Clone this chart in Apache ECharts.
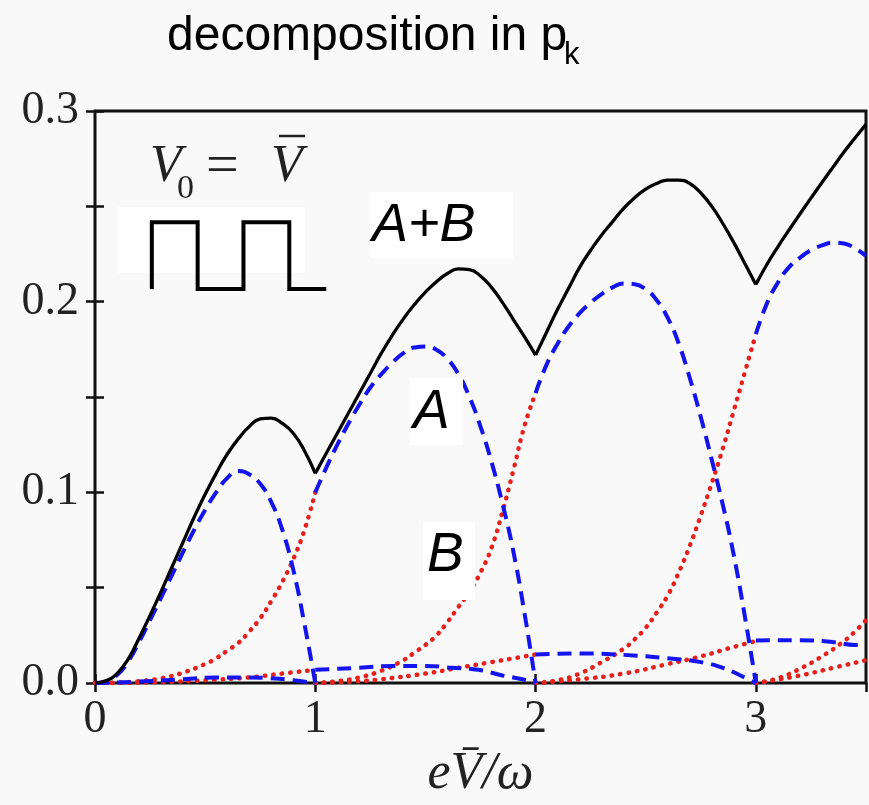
<!DOCTYPE html>
<html><head><meta charset="utf-8">
<script src="https://cdn.jsdelivr.net/npm/echarts@6/dist/echarts.min.js"></script>
<style>html,body{margin:0;padding:0;background:#f9f9f9}#c{width:869px;height:805px}</style>
</head><body><div id="c"></div>
<script>
// ---------- data ----------
const xTickValues = [0, 1, 2, 3];
const yTickLabels = ['0.0', '0.1', '0.2', '0.3'];

// A+B (black solid)
const totalAB = [[0,0],[0.05,0.0012],[0.1,0.005],[0.15,0.0125],[0.2,0.0235],[0.25,0.0355],[0.3,0.048],[0.35,0.061],[0.4,0.074],[0.45,0.087],[0.5,0.099],[0.55,0.11],[0.6,0.12],[0.65,0.128],[0.7,0.1345],[0.75,0.1385],[0.8,0.139],[0.85,0.1362],[0.9,0.131],[0.95,0.122],[1,0.11],
  [1.05,0.1205],[1.1,0.131],[1.15,0.1415],[1.2,0.152],[1.25,0.1625],[1.3,0.173],[1.35,0.1825],[1.4,0.191],[1.45,0.1985],[1.5,0.205],[1.55,0.2105],[1.6,0.2148],[1.65,0.2172],[1.7,0.2168],[1.75,0.2135],[1.8,0.2075],[1.85,0.1995],[1.9,0.1905],[1.95,0.1815],[2,0.172],
  [2.05,0.184],[2.1,0.196],[2.15,0.207],[2.2,0.218],[2.25,0.227],[2.3,0.235],[2.35,0.242],[2.4,0.249],[2.45,0.2545],[2.5,0.259],[2.55,0.262],[2.6,0.2638],[2.65,0.2638],[2.7,0.262],[2.75,0.257],[2.8,0.25],[2.85,0.241],[2.9,0.231],[2.95,0.22],[3,0.209],
  [3.05,0.2195],[3.1,0.2288],[3.15,0.2375],[3.2,0.246],[3.25,0.2543],[3.3,0.2625],[3.35,0.2705],[3.4,0.2785],[3.45,0.2858],[3.5,0.293]];

// A (blue dashed) - large humps
const aHump1 = [[0,0],[0.05,0.0009],[0.1,0.0042],[0.15,0.0112],[0.2,0.0215],[0.25,0.033],[0.3,0.0448],[0.35,0.0568],[0.4,0.0688],[0.45,0.0803],[0.5,0.0908],[0.55,0.1],[0.6,0.1075],[0.65,0.1112],[0.7,0.1095],[0.75,0.1045],[0.8,0.095],[0.85,0.0805],[0.9,0.0595],[0.95,0.0315],[1,0]];
const aHump2 = [[1,0.1],[1.05,0.113],[1.1,0.125],[1.15,0.136],[1.2,0.146],[1.25,0.155],[1.3,0.162],[1.35,0.168],[1.4,0.173],[1.45,0.176],[1.5,0.1765],[1.55,0.1748],[1.6,0.17],[1.65,0.162],[1.7,0.15],[1.75,0.1345],[1.8,0.116],[1.85,0.094],[1.9,0.0685],[1.95,0.0365],[2,0]];
const aHump3 = [[2,0.152],[2.05,0.167],[2.1,0.178],[2.15,0.187],[2.2,0.194],[2.25,0.1995],[2.3,0.204],[2.35,0.2075],[2.4,0.2095],[2.45,0.2092],[2.5,0.2065],[2.55,0.2008],[2.6,0.1915],[2.65,0.178],[2.7,0.16],[2.75,0.1395],[2.8,0.117],[2.85,0.0935],[2.9,0.067],[2.95,0.035],[3,0]];
const aHump4 = [[3,0.183],[3.05,0.199],[3.1,0.21],[3.15,0.218],[3.2,0.223],[3.25,0.227],[3.3,0.2295],[3.35,0.231],[3.4,0.2305],[3.45,0.228],[3.5,0.224]];
// A - small branches
const aLow1 = [[0,0],[0.2,0.0008],[0.4,0.002],[0.55,0.003],[0.7,0.003],[0.8,0.0025],[0.9,0.0015],[1,0]];
const aLow2 = [[1,0.007],[1.2,0.008],[1.35,0.009],[1.5,0.009],[1.62,0.008],[1.74,0.007],[1.85,0.004],[1.94,0.002],[2,0]];
const aLow3 = [[2,0.015],[2.2,0.0155],[2.4,0.0148],[2.6,0.013],[2.75,0.011],[2.85,0.008],[2.93,0.004],[3,0]];
const aLow4 = [[3,0.0224],[3.2,0.0225],[3.35,0.0215],[3.45,0.02],[3.5,0.02]];

// B (red dotted) - large rises
const bRise1 = [[0,0],[0.1,0.0002],[0.2,0.001],[0.3,0.0025],[0.4,0.0055],[0.5,0.01],[0.55,0.013],[0.6,0.017],[0.65,0.021],[0.7,0.027],[0.75,0.034],[0.8,0.043],[0.85,0.053],[0.9,0.065],[0.95,0.08],[1,0.1]];
const bRise2 = [[1,0],[1.1,0.001],[1.2,0.003],[1.3,0.0065],[1.4,0.012],[1.45,0.016],[1.5,0.02],[1.55,0.025],[1.6,0.032],[1.65,0.04],[1.7,0.048],[1.75,0.058],[1.8,0.071],[1.85,0.09],[1.9,0.112],[1.95,0.135],[2,0.152]];
const bRise3 = [[2,0],[2.1,0.0015],[2.2,0.005],[2.3,0.011],[2.4,0.018],[2.45,0.023],[2.5,0.029],[2.55,0.037],[2.6,0.046],[2.65,0.058],[2.7,0.072],[2.75,0.088],[2.8,0.105],[2.85,0.123],[2.9,0.143],[2.95,0.163],[3,0.183]];
const bRise4 = [[3,0],[3.1,0.0025],[3.2,0.0075],[3.3,0.014],[3.4,0.022],[3.45,0.027],[3.5,0.033]];
// B - small rises
const bLow1 = [[0,0],[0.3,0.0005],[0.5,0.0015],[0.7,0.003],[0.85,0.005],[1,0.007]];
const bLow2 = [[1,0],[1.2,0.001],[1.3,0.002],[1.5,0.005],[1.65,0.008],[1.8,0.011],[1.9,0.013],[2,0.015]];
const bLow3 = [[2,0],[2.2,0.002],[2.4,0.005],[2.6,0.01],[2.75,0.014],[2.9,0.019],[3,0.022]];
const bLow4 = [[3,0],[3.2,0.004],[3.35,0.008],[3.5,0.012]];

// inset square wave (V0 = V̄), in axis units
const insetWaveX = [0.258,0.258,0.466,0.466,0.674,0.674,0.882,0.882,1.05];
const insetWaveY = [0.2066,0.2416,0.2416,0.2066,0.2066,0.2416,0.2416,0.2066,0.2066];

// ---------- chart ----------
function splitAtIntegers(arr) {
  const segs = []; let cur = [];
  arr.forEach((p, i) => {
    cur.push(p);
    if (i > 0 && Number.isInteger(p[0]) && i < arr.length - 1) { segs.push(cur); cur = [p]; }
  });
  if (cur.length > 1) segs.push(cur);
  return segs;
}

const blueStyle = { color: '#1414ee', width: 4, type: [14, 8] };
const redStyle = { color: '#e8201c', width: 4.5, type: [0.5, 8], cap: 'round' };
const blackStyle = { color: '#000', width: 3.3 };

function lineSeries(name, data, style, z) {
  return { name, type: 'line', data, showSymbol: false, smooth: 0.5, smoothConstraint: false,
    lineStyle: style, z, silent: true, animation: false };
}

const series = [];
[bRise1, bRise2, bRise3, bRise4, bLow1, bLow2, bLow3, bLow4].forEach(d => series.push(lineSeries('B', d, redStyle, 2)));
[aHump1, aHump2, aHump3, aHump4, aLow1, aLow2, aLow3, aLow4].forEach(d => series.push(lineSeries('A', d, blueStyle, 3)));
splitAtIntegers(totalAB).forEach(d => series.push(lineSeries('A+B', d, blackStyle, 4)));
series.push({ type: 'line', data: insetWaveX.map((x, i) => [x, insetWaveY[i]]), showSymbol: false,
  lineStyle: { color: '#000', width: 4, join: 'miter' }, z: 4, silent: true, animation: false });

const serif = '"Liberation Serif", "DejaVu Serif", serif';
const sans = '"Liberation Sans", Arial, sans-serif';
const tickStyle = { show: true, inside: true, length: 9, lineStyle: { color: '#111', width: 2.5 } };

const chart = echarts.init(document.getElementById('c'), null, { renderer: 'canvas' });
chart.setOption({
  backgroundColor: '#f9f9f9',
  animation: false,
  grid: { left: 95, right: 3, top: 111, bottom: 119, show: true, borderColor: '#111', borderWidth: 3, backgroundColor: 'transparent' },
  xAxis: [
    { type: 'value', min: 0, max: 3.5, interval: 1, position: 'bottom',
      axisLine: { show: false }, axisTick: tickStyle, splitLine: { show: false },
      axisLabel: { margin: 14, fontFamily: serif, fontSize: 46, color: '#222', showMaxLabel: false,
        formatter: v => xTickValues.includes(v) ? String(v) : '' },
      name: 'eV\u0304/\u03c9', nameLocation: 'middle', nameGap: 64,
      nameTextStyle: { fontFamily: serif, fontStyle: 'italic', fontSize: 52, color: '#222' } },
    { type: 'value', min: 0, max: 3.5, interval: 1, position: 'top',
      axisLine: { show: false }, axisTick: tickStyle, splitLine: { show: false }, axisLabel: { show: false } }
  ],
  yAxis: [
    { type: 'value', min: 0, max: 0.3, interval: 0.05, position: 'left',
      axisLine: { show: false }, axisTick: tickStyle, splitLine: { show: false },
      axisLabel: { margin: 16, fontFamily: serif, fontSize: 46, color: '#222',
        formatter: v => { const k = Math.round(v * 100); return k % 10 === 0 ? yTickLabels[k / 10] : ''; } } },
    { type: 'value', min: 0, max: 0.3, interval: 0.05, position: 'right',
      axisLine: { show: false }, axisTick: tickStyle, splitLine: { show: false }, axisLabel: { show: false } }
  ],
  series,
  graphic: [
    { type: 'rect', shape: { x: 118, y: 207, width: 187, height: 66 }, style: { fill: '#ffffff' }, z: 1, silent: true },
    { type: 'rect', shape: { x: 370, y: 192, width: 143, height: 66 }, style: { fill: '#ffffff' }, z: 50, silent: true },
    { type: 'rect', shape: { x: 410, y: 378, width: 53, height: 67 }, style: { fill: '#ffffff' }, z: 50, silent: true },
    { type: 'rect', shape: { x: 423, y: 522, width: 52, height: 78 }, style: { fill: '#ffffff' }, z: 50, silent: true },
    { type: 'text', x: 167, y: 37, z: 60, style: { text: 'decomposition in p', font: '48px ' + sans, fill: '#000', verticalAlign: 'middle' } },
    { type: 'text', x: 564, y: 55, z: 60, style: { text: 'k', font: '31px ' + sans, fill: '#000', verticalAlign: 'middle' } },
    { type: 'text', x: 372, y: 226, z: 60, style: { text: 'A+B', font: 'italic 54px ' + sans, fill: '#000', verticalAlign: 'middle' } },
    { type: 'text', x: 413, y: 413, z: 60, style: { text: 'A', font: 'italic 55px ' + sans, fill: '#000', verticalAlign: 'middle' } },
    { type: 'text', x: 427, y: 556, z: 60, style: { text: 'B', font: 'italic 55px ' + sans, fill: '#000', verticalAlign: 'middle' } },
    { type: 'text', x: 150, y: 167, z: 60, style: { text: 'V', font: 'italic 52px ' + serif, fill: '#222', verticalAlign: 'middle' } },
    { type: 'text', x: 177, y: 189, z: 60, style: { text: '0', font: '34px ' + serif, fill: '#222', verticalAlign: 'middle' } },
    { type: 'text', x: 206, y: 168, z: 60, style: { text: '=', font: '58px ' + serif, fill: '#222', verticalAlign: 'middle' } },
    { type: 'text', x: 271, y: 167, z: 60, style: { text: 'V', font: 'italic 52px ' + serif, fill: '#222', verticalAlign: 'middle' } },
    { type: 'line', shape: { x1: 279, y1: 136, x2: 305, y2: 136 }, style: { stroke: '#222', lineWidth: 2.5 }, z: 60 }
  ]
});
</script></body></html>
